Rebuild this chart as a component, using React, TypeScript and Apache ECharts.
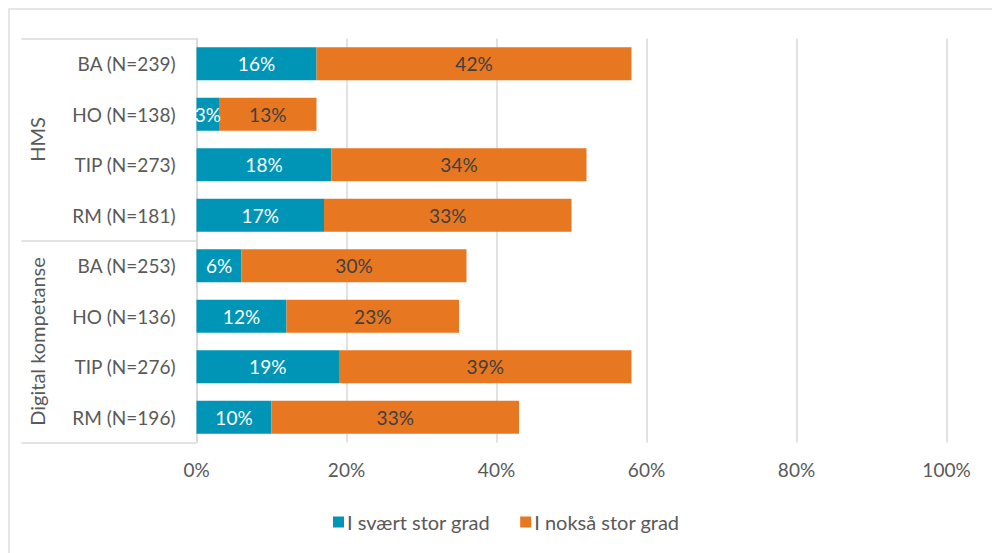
import React, { useEffect, useRef } from "react";
import * as echarts from "echarts";

const categories = [
  "BA (N=239)",
  "HO (N=138)",
  "TIP (N=273)",
  "RM (N=181)",
  "BA (N=253)",
  "HO (N=136)",
  "TIP (N=276)",
  "RM (N=196)",
];
const groups = ["HMS", "Digital kompetanse"];
const sværtStor = [16, 3, 18, 17, 6, 12, 19, 10];
const nokSåStor = [42, 13, 34, 33, 30, 23, 39, 33];
const seriesNames = ["I svært stor grad", "I nokså stor grad"];
const xTicks = [0, 20, 40, 60, 80, 100];

const FONT = "Lato";
const GRAY = "#d9d9d9";
const TEXT = "#595959";

export default function App() {
  const ref = useRef<HTMLDivElement>(null);
  useEffect(() => {
    document.body.style.margin = "0";
    const chart = echarts.init(ref.current!, null, { renderer: "svg" });
    chart.setOption({
      animation: false,
      textStyle: { fontFamily: FONT },
      graphic: [
        {
          type: "rect",
          shape: { x: 9, y: 9, width: 1100, height: 1100 },
          style: { fill: "none", stroke: "#dedede", lineWidth: 1.5 },
          silent: true,
        },
      ],
      grid: { left: 196.5, right: 45.5, top: 38.5, bottom: 110.5 },
      legend: {
        data: seriesNames,
        left: 328,
        top: 507,
        itemWidth: 11,
        itemHeight: 11,
        itemGap: 30,
        icon: "rect",
        textStyle: { color: TEXT, fontSize: 20, fontFamily: FONT, padding: [0, 0, 0, -2] },
      },
      xAxis: {
        type: "value",
        min: xTicks[0],
        max: xTicks[xTicks.length - 1],
        interval: 20,
        axisLine: { show: false },
        axisTick: { show: false },
        splitLine: { lineStyle: { color: GRAY, width: 1.5 } },
        axisLabel: {
          formatter: "{value}%",
          color: TEXT,
          fontSize: 19,
          fontFamily: FONT,
          margin: 17,
        },
      },
      yAxis: [
        {
          type: "category",
          data: categories,
          inverse: true,
          axisLine: { show: true, lineStyle: { color: GRAY, width: 1.5 } },
          axisTick: { show: false },
          axisLabel: { color: TEXT, fontSize: 19, fontFamily: FONT, margin: 21, interval: 0 },
        },
        {
          type: "category",
          data: groups,
          inverse: true,
          position: "left",
          axisLine: { show: false },
          axisTick: {
            show: true,
            interval: 0,
            length: 175,
            lineStyle: { color: GRAY, width: 1.5 },
          },
          axisLabel: {
            interval: 0,
            rotate: 90,
            color: TEXT,
            fontSize: 20,
            fontFamily: FONT,
            margin: 150,
          },
        },
      ],
      series: [
        {
          name: seriesNames[0],
          type: "bar",
          stack: "total",
          data: sværtStor,
          barWidth: 33,
          itemStyle: { color: "#0095B6" },
          label: {
            show: true,
            position: "inside",
            formatter: "{c}%",
            color: "#ffffff",
            fontSize: 19,
            fontFamily: FONT,
          },
        },
        {
          name: seriesNames[1],
          type: "bar",
          stack: "total",
          data: nokSåStor,
          barWidth: 33,
          itemStyle: { color: "#E87722" },
          label: {
            show: true,
            position: "inside",
            formatter: "{c}%",
            color: "#404040",
            fontSize: 19,
            fontFamily: FONT,
          },
        },
      ],
    });
    return () => chart.dispose();
  }, []);
  return <div ref={ref} style={{ width: 992, height: 553 }} />;
}
